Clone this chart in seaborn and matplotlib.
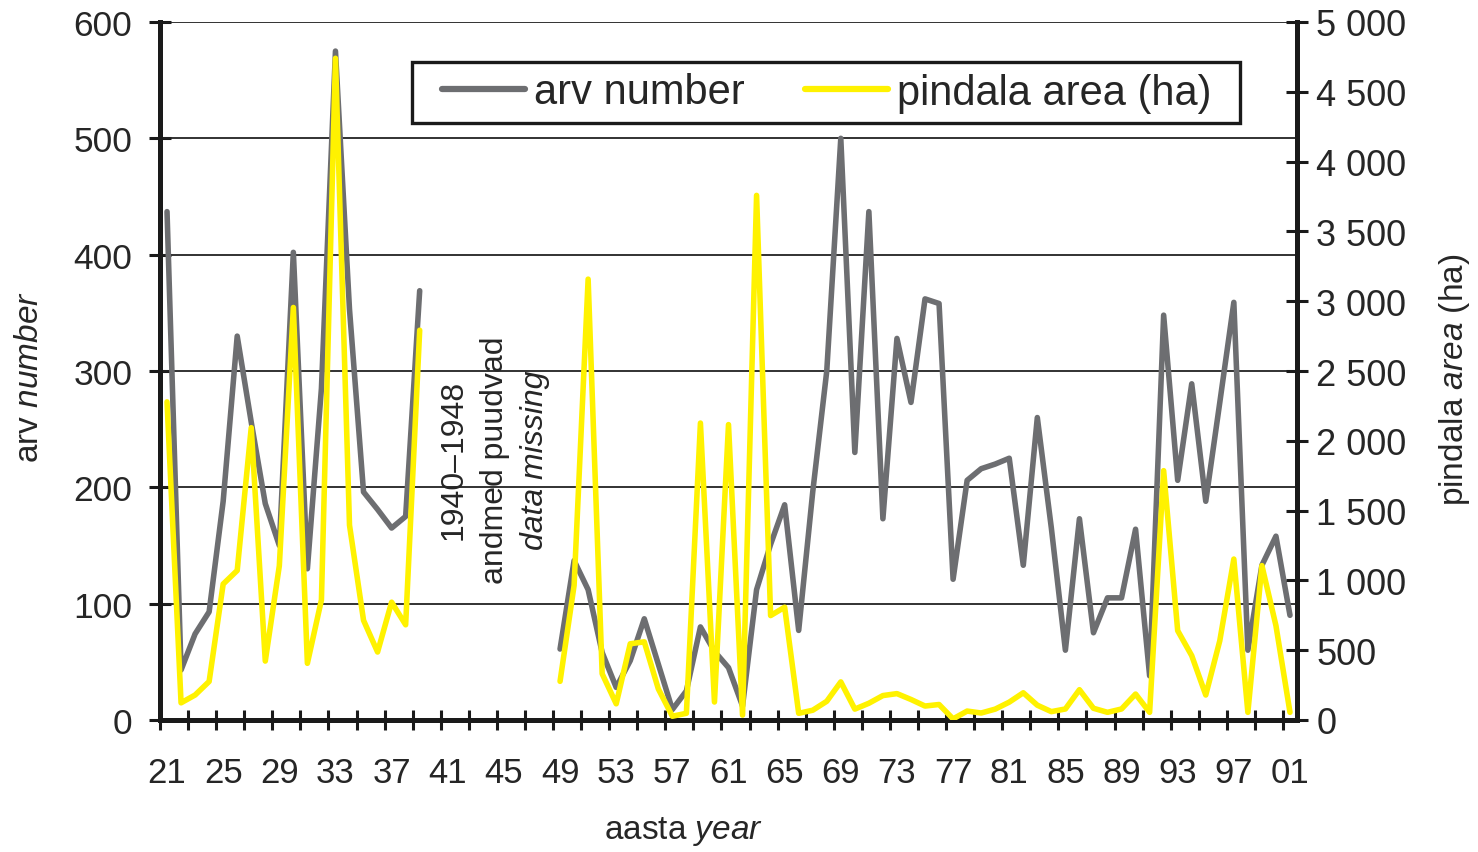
import numpy as np
import pandas as pd
import matplotlib
matplotlib.use("Agg")
import matplotlib.pyplot as plt
from matplotlib.lines import Line2D
from matplotlib.patches import Rectangle
from matplotlib.ticker import FixedLocator, FuncFormatter
import seaborn as sns

# ---------------- data ----------------
years_1 = list(range(1921, 1940))
years_2 = list(range(1949, 2002))

arv_1 = [437, 43, 74, 93, 188, 330, 256, 186, 150, 402, 130, 285, 575, 353, 196, 181, 165, 175, 369]
arv_2 = [61, 137, 112, 58, 28, 51, 87, 48, 9, 25, 80, 59, 45, 12, 112, 151, 185, 77, 196, 300,
         500, 230, 437, 173, 328, 273, 362, 358, 121, 206, 216, 220, 225, 133, 260, 165, 60, 173,
         75, 105, 105, 164, 38, 348, 206, 289, 188, 273, 359, 60, 133, 158, 90]

area_1 = [2279, 123, 179, 276, 974, 1071, 2094, 422, 1104, 2955, 406, 860, 4740, 1396, 714, 487, 844, 682, 2792]
area_2 = [277, 964, 3158, 331, 116, 546, 560, 223, 27, 48, 2127, 129, 2116, 35, 3758, 748, 808, 48, 70, 134,
          273, 78, 120, 175, 189, 147, 100, 111, 8, 64, 50, 78, 128, 195, 106, 60, 79, 217,
          84, 55, 79, 186, 55, 1786, 640, 461, 179, 568, 1153, 55, 1106, 676, 55]

x_major = list(range(1921, 2002, 4))
x_labels = [f"{y % 100:02d}" for y in x_major]
x_tickmarks = [y + 0.5 for y in range(1920, 2001, 2)]
left_ticks = [0, 100, 200, 300, 400, 500, 600]
right_ticks = [0, 500, 1000, 1500, 2000, 2500, 3000, 3500, 4000, 4500, 5000]

series_names = ["arv number", "pindala area (ha)"]
gap_text = ["1940–1948", "andmed puudvad", "data missing"]

# ---------------- style ----------------
sns.set_style("white")
base = "Liberation Sans"
plt.rcParams["font.family"] = [base, "DejaVu Sans"]
plt.rcParams["mathtext.fontset"] = "custom"
plt.rcParams["mathtext.rm"] = base
plt.rcParams["mathtext.it"] = base + ":italic"

GRAY = "#6d6e71"
YELLOW = "#fff200"
INK = "#1a1a1a"

df = pd.DataFrame({
    "year": years_1 + years_2,
    "arv": arv_1 + arv_2,
    "area": area_1 + area_2,
    "period": ["a"] * len(years_1) + ["b"] * len(years_2),
})

fig = plt.figure(figsize=(14.78, 8.53), dpi=100)
ax = fig.add_axes([160 / 1478, 1 - 721 / 853, (1297 - 160) / 1478, (721 - 23) / 853])
ax2 = ax.twinx()

sns.lineplot(data=df, x="year", y="arv", units="period", estimator=None, ax=ax,
             color=GRAY, linewidth=4.0, solid_joinstyle="round", solid_capstyle="round",
             legend=False, zorder=3)
sns.lineplot(data=df, x="year", y="area", units="period", estimator=None, ax=ax2,
             color=YELLOW, linewidth=4.0, solid_joinstyle="round", solid_capstyle="round",
             legend=False, zorder=3)

ax.set_xlim(1920.5, 2001.5)
ax.set_ylim(0, 600)
ax2.set_ylim(0, 5000)

# grid
for v in left_ticks[1:]:
    ax.axhline(v, color="#222222", linewidth=1.3, zorder=1)

# spines
for a in (ax, ax2):
    a.spines["top"].set_visible(False)
    for s in ("left", "right", "bottom"):
        a.spines[s].set_linewidth(3.6)
        a.spines[s].set_color(INK)

# ticks: labels at category centres, tick marks at category boundaries
ax.xaxis.set_major_locator(FixedLocator(x_major))
ax.xaxis.set_minor_locator(FixedLocator(x_tickmarks))
ax.set_xticklabels(x_labels)
ax.set_yticks(left_ticks)
ax2.set_yticks(right_ticks)
ax2.yaxis.set_major_formatter(FuncFormatter(lambda v, p: f"{int(v):,}".replace(",", " ")))

ax.tick_params(axis="x", which="major", length=0, pad=26, labelsize=25, bottom=True)
ax.tick_params(axis="x", which="minor", direction="inout", length=14, width=2.2, color=INK,
               bottom=True)
ax.tick_params(axis="y", direction="inout", length=16, width=2.2, color=INK,
               pad=12, labelsize=25.5, left=True)
ax2.tick_params(axis="y", direction="inout", length=16, width=2.2, color=INK,
                pad=6, labelsize=26, right=True)

# axis titles
ax.set_xlabel(r"aasta $\mathit{year}$", fontsize=24)
ax.xaxis.label.set(va="center", ha="center")
ax.xaxis.set_label_coords((683 - 160) / 1137, (721 - 832) / 698)

ax.set_ylabel(r"arv $\mathit{number}$", fontsize=24)
ax.yaxis.label.set(va="center", ha="center", rotation_mode="anchor")
ax.yaxis.set_label_coords((30 - 160) / 1137, (721 - 377) / 698)

ax2.set_ylabel(r"pindala $\mathit{area}$ (ha)", fontsize=24)
ax2.yaxis.label.set(va="center", ha="center", rotation_mode="anchor")
ax2.yaxis.set_label_coords((1454 - 160) / 1137, (721 - 380) / 698)

# missing data note
note_x = [1941.4, 1944.4, 1947.2]
styles = ["normal", "normal", "italic"]
for t, xx, st in zip(gap_text, note_x, styles):
    ax.text(xx, 224, t, rotation=90, ha="center", va="center", fontsize=23,
            style=st, zorder=4)

# legend (frame drawn as a box in axes coordinates)
box = Rectangle(((412 - 160) / 1137, (721 - 124) / 698), (1240 - 412) / 1137, (124 - 63) / 698,
                transform=ax2.transAxes, facecolor="white", edgecolor=INK, linewidth=2.4,
                zorder=9)
ax2.add_patch(box)
handles = [Line2D([], [], color=GRAY, linewidth=4.5, solid_capstyle="round"),
           Line2D([], [], color=YELLOW, linewidth=4.5, solid_capstyle="round")]
leg = ax2.legend(handles, series_names, loc="center",
                 bbox_to_anchor=(((412 + 1240) / 2 - 160) / 1137 + 0.0005, (721 - 93.5) / 698),
                 ncol=2, frameon=False, borderpad=0.25, handlelength=2.0, handletextpad=0.2,
                 columnspacing=1.45, prop={"size": 30})
leg.set_zorder(10)

fig.savefig("out.png", dpi=100, facecolor="white")
